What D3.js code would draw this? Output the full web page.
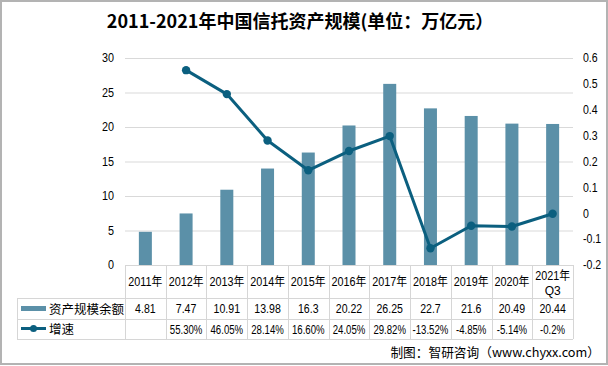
<!DOCTYPE html>
<html><head><meta charset="utf-8">
<script src="https://cdn.jsdelivr.net/npm/d3@7"></script>
<style>
html,body{margin:0;padding:0;background:#fff;}
svg{display:block;}
text{font-family:"Liberation Sans","Noto Sans CJK SC",sans-serif;fill:#000;}
</style></head><body>
<svg id="c" width="608" height="366"></svg>
<script>
const categories = ["2011年","2012年","2013年","2014年","2015年","2016年","2017年","2018年","2019年","2020年","2021年\nQ3"];
const assetValues = [4.81,7.47,10.91,13.98,16.3,20.22,26.25,22.7,21.6,20.49,20.44];
const growthValues = [null,0.553,0.4605,0.2814,0.166,0.2405,0.2982,-0.1352,-0.0485,-0.0514,-0.002];
const growthLabels = ["","55.30%","46.05%","28.14%","16.60%","24.05%","29.82%","-13.52%","-4.85%","-5.14%","-0.2%"];
const leftTicks = [0,5,10,15,20,25,30];
const rightTicks = [-0.2,-0.1,0,0.1,0.2,0.3,0.4,0.5,0.6];
const seriesNames = ["资产规模余额","增速"];
const title = "2011-2021年中国信托资产规模(单位：万亿元）";
const source = "制图：智研咨询（www.chyxx.com）";

const barColor = "#5b90a8", lineColor = "#0b5f7f", gridColor = "#d9d9d9", tableColor = "#d6d6d6";
const svg = d3.select("#c");
const cjk = '"Noto Sans CJK SC",sans-serif';
const lat = '"Liberation Sans","Noto Sans CJK SC",sans-serif';

function condense(sel, f){
  sel.each(function(){
    const w = this.getComputedTextLength();
    if(w>0) d3.select(this).attr("textLength", w*f).attr("lengthAdjust","spacingAndGlyphs");
  });
  return sel;
}

svg.append("rect").attr("x",1).attr("y",1).attr("width",606).attr("height",363)
  .attr("fill","#fff").attr("stroke","#b3b3b3").attr("stroke-width",2);

svg.append("text").attr("x",300).attr("y",28).attr("text-anchor","middle")
  .style("font-family",cjk).style("font-weight","bold").style("font-size","18px").text(title);

const x = d3.scaleBand().domain(categories).range([125,573]).padding(0);
const yL = d3.scaleLinear().domain([0,30]).range([265,58]);
const yR = d3.scaleLinear().domain([-0.2,0.6]).range([265,58]);

const grid = svg.append("g").attr("transform","translate(125,0)")
  .call(d3.axisLeft(yL).tickValues(leftTicks).tickSize(-448).tickFormat(""));
grid.select(".domain").remove();
grid.selectAll("line").attr("stroke",gridColor);

const ax = svg.append("g").attr("transform","translate(114,0)")
  .call(d3.axisLeft(yL).tickValues(leftTicks).tickSize(0).tickPadding(0));
ax.select(".domain").remove();
ax.selectAll("text").style("font-size","12px").style("font-family",lat).attr("fill","#000");
condense(ax.selectAll("text"),0.9);

const axR = svg.append("g").attr("transform","translate(583,0)")
  .call(d3.axisRight(yR).tickValues(rightTicks).tickSize(0).tickPadding(0).tickFormat(d=>String(+d.toFixed(1))));
axR.select(".domain").remove();
axR.selectAll("text").style("font-size","12px").style("font-family",lat).attr("fill","#000");
condense(axR.selectAll("text"),0.88);

const bw = 13;
svg.append("g").selectAll("rect").data(assetValues).join("rect")
  .attr("x",(d,i)=>x(categories[i])+x.bandwidth()/2-bw/2)
  .attr("y",d=>yL(d)).attr("width",bw).attr("height",d=>yL(0)-yL(d))
  .attr("fill",barColor);

const pts = growthValues.map((v,i)=>({v,c:categories[i]})).filter(d=>d.v!==null);
svg.append("path").datum(pts)
  .attr("d",d3.line().x(d=>x(d.c)+x.bandwidth()/2).y(d=>yR(d.v)))
  .attr("fill","none").attr("stroke",lineColor).attr("stroke-width",3).attr("stroke-linejoin","round");
svg.append("g").selectAll("circle").data(pts).join("circle")
  .attr("cx",d=>x(d.c)+x.bandwidth()/2).attr("cy",d=>yR(d.v)).attr("r",4.2).attr("fill",lineColor);

svg.append("line").attr("x1",125).attr("x2",573).attr("y1",265.5).attr("y2",265.5).attr("stroke",tableColor);

const tg = svg.append("g").attr("stroke",tableColor).attr("stroke-width",1).attr("shape-rendering","crispEdges");
const edges = categories.map(c=>x(c)).concat([573]);
edges.forEach(e=>tg.append("line").attr("x1",Math.round(e)+0.5).attr("x2",Math.round(e)+0.5).attr("y1",265).attr("y2",339));
[298,319,339].forEach(yy=>tg.append("line").attr("x1",17).attr("x2",573).attr("y1",yy+0.5).attr("y2",yy+0.5));
tg.append("line").attr("x1",17.5).attr("x2",17.5).attr("y1",298).attr("y2",339);

const fs = "12px";
categories.forEach((c,i)=>{
  const cx = x(c)+x.bandwidth()/2;
  const parts = c.split("\n");
  const t = svg.append("text").attr("text-anchor","middle").style("font-size",fs).style("font-family",lat);
  if(parts.length===1){ t.attr("x",cx).attr("y",286).text(c); condense(t,0.9); }
  else{
    condense(t.append("tspan").attr("x",cx).attr("y",280).text(parts[0]),0.9);
    t.append("tspan").attr("x",cx).attr("y",295).text(parts[1]);
  }
  condense(svg.append("text").attr("x",cx).attr("y",313).attr("text-anchor","middle").style("font-size",fs).style("font-family",lat).text(assetValues[i]),0.88);
  condense(svg.append("text").attr("x",cx).attr("y",334).attr("text-anchor","middle").style("font-size",fs).style("font-family",lat).text(growthLabels[i]),0.8);
});

svg.append("rect").attr("x",21).attr("y",306).attr("width",25).attr("height",5).attr("fill",barColor);
svg.append("line").attr("x1",21).attr("x2",46).attr("y1",328.5).attr("y2",328.5).attr("stroke",lineColor).attr("stroke-width",3);
svg.append("circle").attr("cx",33.5).attr("cy",328.5).attr("r",3.5).attr("fill",lineColor);
svg.append("text").attr("x",49).attr("y",313.5).style("font-size","12.5px").style("font-family",cjk).text(seriesNames[0]);
svg.append("text").attr("x",49).attr("y",334).style("font-size","12.5px").style("font-family",cjk).text(seriesNames[1]);

svg.append("text").attr("x",600).attr("y",357).attr("text-anchor","end").style("font-size","12.7px").style("font-family",cjk).text(source);
</script></body></html>
